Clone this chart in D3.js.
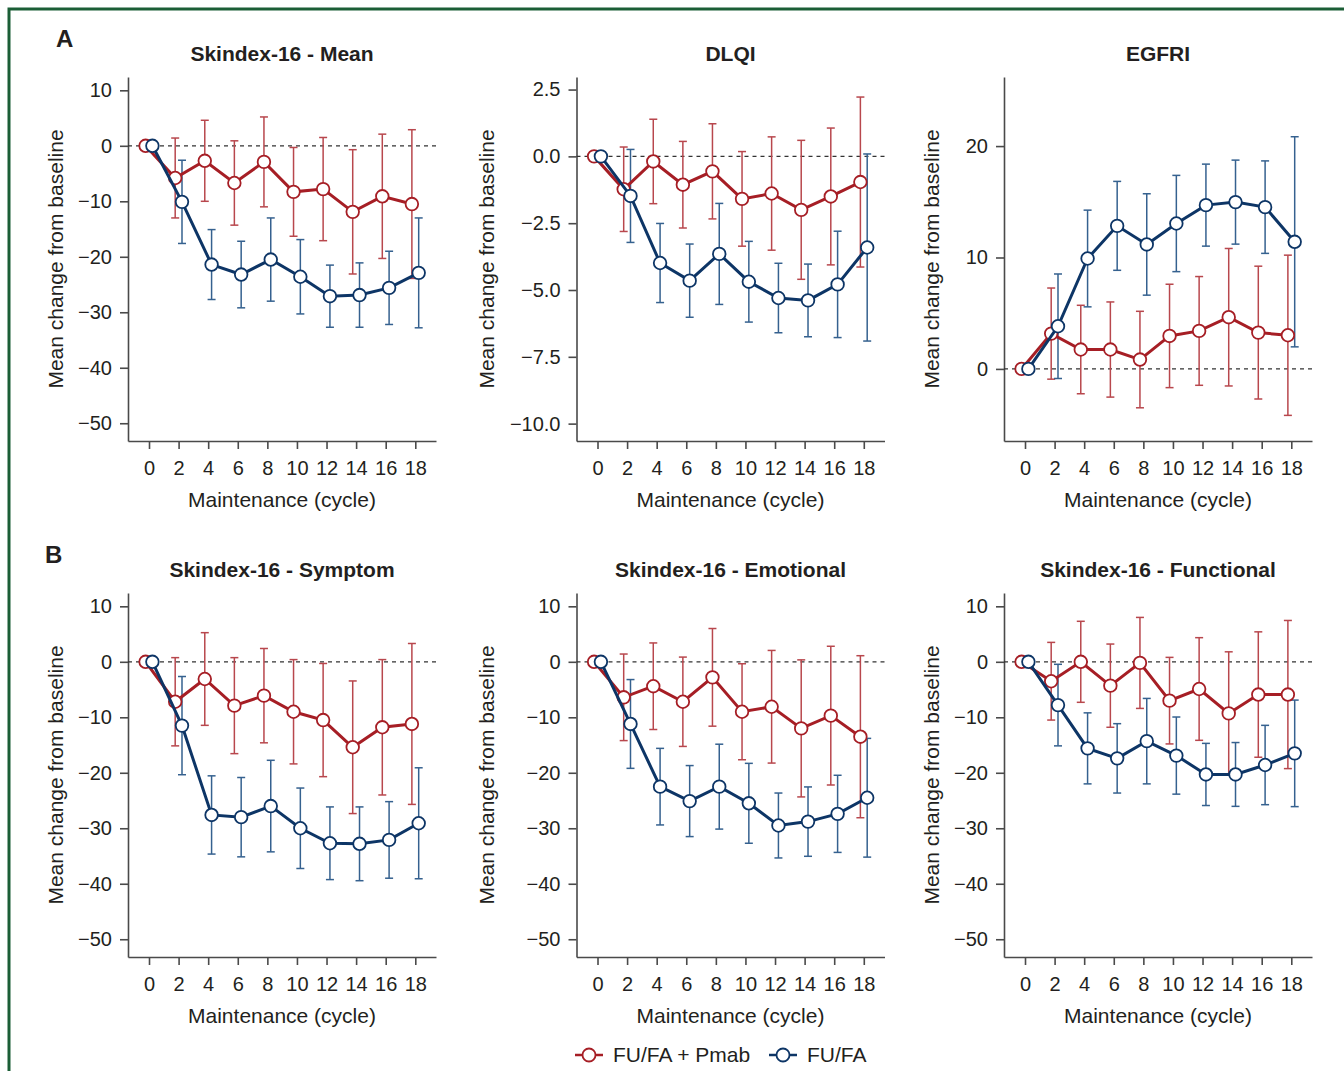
<!DOCTYPE html>
<html>
<head>
  <meta charset="utf-8">
  <title>Mean change from baseline</title>
  <script src="https://d3js.org/d3.v7.min.js"></script>
  <style>
    body { margin: 0; background: #fff; }
    text { font-family: "Liberation Sans", Arial, Helvetica, sans-serif; fill: #231f20; }
  </style>
</head>
<body>
  <script>
    // maintenance cycles (x axis)
    const cycles = [0, 2, 4, 6, 8, 10, 12, 14, 16, 18];

    // Skindex-16 mean
    const skMeanPmab    = [0, -5.8, -2.7, -6.7, -2.9, -8.3, -7.8, -11.9, -9.1, -10.5];
    const skMeanPmabErr = [0, 7.2, 7.3, 7.6, 8.1, 8.0, 9.3, 11.2, 11.2, 13.4];
    const skMeanFufa    = [0, -10.1, -21.4, -23.2, -20.5, -23.6, -27.1, -26.9, -25.6, -22.9];
    const skMeanFufaErr = [0, 7.5, 6.3, 6.0, 7.5, 6.7, 5.6, 5.8, 6.6, 9.9];

    // DLQI
    const dlqiPmab    = [0, -1.23, -0.19, -1.06, -0.56, -1.59, -1.39, -2.0, -1.5, -0.96];
    const dlqiPmabErr = [0, 1.58, 1.58, 1.62, 1.78, 1.77, 2.12, 2.6, 2.56, 3.18];
    const dlqiFufa    = [0, -1.48, -3.99, -4.65, -3.65, -4.69, -5.3, -5.39, -4.79, -3.41];
    const dlqiFufaErr = [0, 1.74, 1.48, 1.37, 1.89, 1.51, 1.3, 1.36, 1.99, 3.5];

    // EGFRI
    const egfriPmab    = [0, 3.17, 1.74, 1.74, 0.84, 2.96, 3.41, 4.64, 3.26, 3.02];
    const egfriPmabErr = [0, 4.09, 3.97, 4.27, 4.33, 4.64, 4.88, 6.17, 5.96, 7.19];
    const egfriFufa    = [0, 3.83, 9.91, 12.84, 11.17, 13.05, 14.7, 14.97, 14.52, 11.41];
    const egfriFufaErr = [0, 4.69, 4.34, 3.99, 4.55, 4.32, 3.68, 3.77, 4.15, 9.43];

    // Skindex-16 symptom
    const symPmab    = [0, -7.2, -3.1, -7.9, -6.1, -9.0, -10.5, -15.4, -11.8, -11.2];
    const symPmabErr = [0, 7.95, 8.35, 8.65, 8.5, 9.4, 10.2, 11.95, 12.2, 14.5];
    const symFufa    = [0, -11.5, -27.6, -28.0, -26.0, -30.0, -32.7, -32.8, -32.1, -29.1];
    const symFufaErr = [0, 8.85, 7.05, 7.15, 8.25, 7.25, 6.55, 6.65, 6.9, 10.0];

    // Skindex-16 emotional
    const emoPmab    = [0, -6.4, -4.4, -7.2, -2.8, -9.0, -8.1, -12.0, -9.7, -13.5];
    const emoPmabErr = [0, 7.8, 7.8, 8.05, 8.8, 8.65, 10.15, 12.35, 12.5, 14.6];
    const emoFufa    = [0, -11.2, -22.5, -25.1, -22.5, -25.5, -29.5, -28.8, -27.4, -24.5];
    const emoFufaErr = [0, 8.0, 6.9, 6.4, 7.65, 7.2, 5.85, 6.25, 6.95, 10.7];

    // Skindex-16 functional
    const funPmab    = [0, -3.5, 0.0, -4.3, -0.2, -7.0, -4.9, -9.3, -5.9, -5.9];
    const funPmabErr = [0, 7.0, 7.3, 7.5, 8.2, 7.8, 9.25, 11.1, 11.3, 13.35];
    const funFufa    = [0, -7.8, -15.6, -17.4, -14.3, -16.9, -20.3, -20.3, -18.6, -16.5];
    const funFufaErr = [0, 7.35, 6.4, 6.25, 7.7, 6.95, 5.6, 5.75, 7.15, 9.6];

    // tick labels
    const yTicksSkindex = [10, 0, -10, -20, -30, -40, -50];
    const yTicksDlqi = [2.5, 0, -2.5, -5, -7.5, -10];
    const yTicksEgfri = [0, 10, 20];

    const seriesNames = ["FU/FA + Pmab", "FU/FA"];
    const colors = ["#a61e25", "#0d3566"];
    const errColors = ["#b8474d", "#35618f"];

    const panels = [
      { title: "Skindex-16 - Mean", pmab: skMeanPmab, pmabErr: skMeanPmabErr, fufa: skMeanFufa, fufaErr: skMeanFufaErr,
        dom: [-53.2, 12.4], ticks: yTicksSkindex, fmt: d3.format("d"), col: 0, row: 0 },
      { title: "DLQI", pmab: dlqiPmab, pmabErr: dlqiPmabErr, fufa: dlqiFufa, fufaErr: dlqiFufaErr,
        dom: [-10.65, 2.97], ticks: yTicksDlqi, fmt: d3.format(".1f"), col: 1, row: 0 },
      { title: "EGFRI", pmab: egfriPmab, pmabErr: egfriPmabErr, fufa: egfriFufa, fufaErr: egfriFufaErr,
        dom: [-6.47, 26.2], ticks: yTicksEgfri, fmt: d3.format("d"), col: 2, row: 0 },
      { title: "Skindex-16 - Symptom", pmab: symPmab, pmabErr: symPmabErr, fufa: symFufa, fufaErr: symFufaErr,
        dom: [-53.2, 12.4], ticks: yTicksSkindex, fmt: d3.format("d"), col: 0, row: 1 },
      { title: "Skindex-16 - Emotional", pmab: emoPmab, pmabErr: emoPmabErr, fufa: emoFufa, fufaErr: emoFufaErr,
        dom: [-53.2, 12.4], ticks: yTicksSkindex, fmt: d3.format("d"), col: 1, row: 1 },
      { title: "Skindex-16 - Functional", pmab: funPmab, pmabErr: funPmabErr, fufa: funFufa, fufaErr: funFufaErr,
        dom: [-53.2, 12.4], ticks: yTicksSkindex, fmt: d3.format("d"), col: 2, row: 1 }
    ];

    const width = 1344, height = 1071;
    const colLeft = [128, 576.5, 1004];
    const rowTop = [77, 593];
    const plotW = 308, plotH = 364;
    const yTitleOffset = [-65, -83, -65];
    const dodge = 0.23;

    const svg = d3.select("body").append("svg")
      .attr("width", width)
      .attr("height", height);

    // green frame (top and left edge)
    svg.append("path")
      .attr("d", "M9," + height + "V9H" + width)
      .attr("fill", "none")
      .attr("stroke", "#1b5e36")
      .attr("stroke-width", 3);

    svg.append("text").attr("x", 56).attr("y", 47)
      .style("font-size", "24px").style("font-weight", "bold").text("A");
    svg.append("text").attr("x", 45).attr("y", 563)
      .style("font-size", "24px").style("font-weight", "bold").text("B");

    panels.forEach(p => {
      const left = colLeft[p.col], top = rowTop[p.row];
      const bottom = top + plotH;

      const x = d3.scaleLinear().domain([-1.42, 19.4]).range([left, left + plotW]);
      const y = d3.scaleLinear().domain(p.dom).range([bottom, top]);

      const g = svg.append("g");

      // title
      g.append("text")
        .attr("x", left + plotW / 2).attr("y", top - 16.5)
        .attr("text-anchor", "middle")
        .style("font-size", "21px").style("font-weight", "bold")
        .text(p.title);

      // axes
      const yAxis = g.append("g")
        .attr("transform", "translate(" + left + ",0)")
        .call(d3.axisLeft(y).tickValues(p.ticks).tickFormat(p.fmt).tickSize(8).tickSizeOuter(0).tickPadding(8));
      const xAxis = g.append("g")
        .attr("transform", "translate(0," + bottom + ")")
        .call(d3.axisBottom(x).tickValues(cycles).tickSize(8).tickSizeOuter(0).tickPadding(12));
      [yAxis, xAxis].forEach(a => {
        a.selectAll("path, line").attr("stroke", "#4a4a4a").attr("stroke-width", 1.6);
        a.selectAll("text").style("font-size", "20px").attr("fill", "#231f20");
      });

      // axis titles
      g.append("text")
        .attr("x", left + plotW / 2).attr("y", bottom + 65.5)
        .attr("text-anchor", "middle")
        .style("font-size", "21px")
        .text("Maintenance (cycle)");
      g.append("text")
        .attr("transform", "translate(" + (left + yTitleOffset[p.col]) + "," + (top + plotH / 2) + ") rotate(-90)")
        .attr("text-anchor", "middle")
        .style("font-size", "21px")
        .text("Mean change from baseline");

      // zero reference line
      g.append("line")
        .attr("x1", left).attr("x2", left + plotW)
        .attr("y1", y(0)).attr("y2", y(0))
        .attr("stroke", "#333")
        .attr("stroke-width", 1.3)
        .attr("stroke-dasharray", "4,4");

      const series = [
        { vals: p.pmab, err: p.pmabErr, off: -dodge, i: 0 },
        { vals: p.fufa, err: p.fufaErr, off: dodge, i: 1 }
      ];

      // error bars
      series.forEach(s => {
        const pts = cycles.map((c, k) => ({ c: c, v: s.vals[k], e: s.err[k] })).filter(d => d.e > 0);
        const eg = g.append("g").attr("stroke", errColors[s.i]).attr("stroke-width", 1.5);
        eg.selectAll(".v").data(pts).enter().append("line")
          .attr("x1", d => x(d.c + s.off)).attr("x2", d => x(d.c + s.off))
          .attr("y1", d => y(d.v + d.e)).attr("y2", d => y(d.v - d.e));
        eg.selectAll(".t").data(pts).enter().append("line")
          .attr("x1", d => x(d.c + s.off) - 4).attr("x2", d => x(d.c + s.off) + 4)
          .attr("y1", d => y(d.v + d.e)).attr("y2", d => y(d.v + d.e));
        eg.selectAll(".b").data(pts).enter().append("line")
          .attr("x1", d => x(d.c + s.off) - 4).attr("x2", d => x(d.c + s.off) + 4)
          .attr("y1", d => y(d.v - d.e)).attr("y2", d => y(d.v - d.e));
      });

      // lines and markers
      series.forEach(s => {
        const line = d3.line().x((d, k) => x(cycles[k] + s.off)).y(d => y(d));
        g.append("path")
          .datum(s.vals)
          .attr("d", line)
          .attr("fill", "none")
          .attr("stroke", colors[s.i])
          .attr("stroke-width", 3);
        g.selectAll(".pt" + s.i).data(s.vals).enter().append("circle")
          .attr("cx", (d, k) => x(cycles[k] + s.off))
          .attr("cy", d => y(d))
          .attr("r", 6.3)
          .attr("fill", "#fff")
          .attr("stroke", colors[s.i])
          .attr("stroke-width", 1.8);
      });
    });

    // legend
    const legendX = [575, 769];
    const legend = svg.append("g");
    seriesNames.forEach((name, i) => {
      const lx = legendX[i];
      legend.append("line")
        .attr("x1", lx).attr("x2", lx + 28)
        .attr("y1", 1055).attr("y2", 1055)
        .attr("stroke", colors[i]).attr("stroke-width", 2.5);
      legend.append("circle")
        .attr("cx", lx + 14).attr("cy", 1055).attr("r", 6.5)
        .attr("fill", "#fff").attr("stroke", colors[i]).attr("stroke-width", 1.8);
      legend.append("text")
        .attr("x", lx + 38).attr("y", 1062)
        .style("font-size", "21px")
        .text(name);
    });
  </script>
</body>
</html>
